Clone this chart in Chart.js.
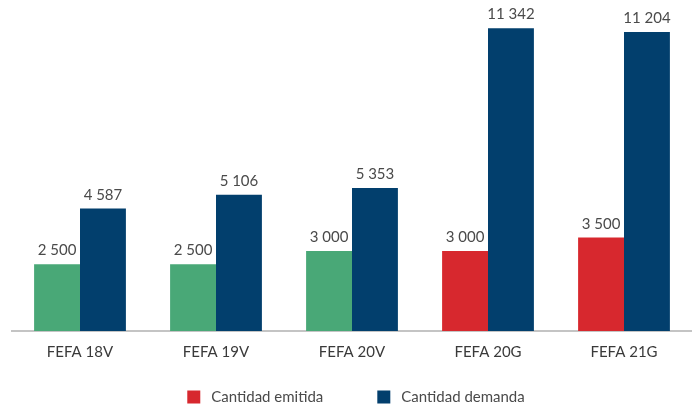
<!DOCTYPE html>
<html lang="es">
<head>
    <meta charset="UTF-8">
    <title>FEFA - Cantidad emitida vs demanda</title>
    <style>
        html, body {
            margin: 0;
            padding: 0;
            background: #fff;
        }
        .chart-container {
            position: relative;
            width: 692px;
            height: 407px;
        }
    </style>
    <script src="https://cdn.jsdelivr.net/npm/chart.js"></script>
</head>
<body>
    <div class="chart-container">
        <canvas id="fefaChart"></canvas>
    </div>

    <script>
        // Data
        const categories = ['FEFA 18V', 'FEFA 19V', 'FEFA 20V', 'FEFA 20G', 'FEFA 21G'];
        const emitida = [2500, 2500, 3000, 3000, 3500];
        const demanda = [4587, 5106, 5353, 11342, 11204];
        const seriesNames = ['Cantidad emitida', 'Cantidad demanda'];

        const GREEN = '#49a877';
        const RED = '#d7282e';
        const NAVY = '#023f6d';
        // first three issues in green, the rest in red
        const emitidaColors = [GREEN, GREEN, GREEN, RED, RED];

        const FONT = 'Lato, "Open Sans", sans-serif';

        function fmt(v) {
            return String(v).replace(/\B(?=(\d{3})+(?!\d))/g, ' ');
        }

        // value labels above each bar
        const valueLabels = {
            id: 'valueLabels',
            afterDatasetsDraw(chart) {
                const ctx = chart.ctx;
                ctx.save();
                ctx.font = '15px ' + FONT;
                ctx.fillStyle = '#4a4a4a';
                ctx.textAlign = 'center';
                ctx.textBaseline = 'alphabetic';
                chart.data.datasets.forEach((ds, i) => {
                    chart.getDatasetMeta(i).data.forEach((bar, j) => {
                        ctx.fillText(fmt(ds.data[j]), bar.x, bar.y - 9);
                    });
                });
                ctx.restore();
            }
        };

        // legend drawn under the axis
        const bottomLegend = {
            id: 'bottomLegend',
            afterDraw(chart) {
                const ctx = chart.ctx;
                const colors = [RED, NAVY];
                const box = 13, textGap = 11, itemGap = 54;
                ctx.save();
                ctx.font = '15px ' + FONT;
                const widths = seriesNames.map(t => ctx.measureText(t).width);
                const total = widths.reduce((a, w) => a + box + textGap + w, 0) + itemGap;
                const area = chart.chartArea;
                let x = (area.left + area.right) / 2 - total / 2 + 4;
                const y = 397;
                ctx.textBaseline = 'middle';
                ctx.textAlign = 'left';
                seriesNames.forEach((name, i) => {
                    ctx.fillStyle = colors[i];
                    ctx.fillRect(x, y - 6.5, box, box);
                    ctx.fillStyle = '#4a4a4a';
                    ctx.fillText(name, x + box + textGap, y);
                    x += box + textGap + widths[i] + itemGap;
                });
                ctx.restore();
            }
        };

        const ctx = document.getElementById('fefaChart').getContext('2d');
        const chart = new Chart(ctx, {
            type: 'bar',
            data: {
                labels: categories,
                datasets: [{
                    label: seriesNames[0],
                    data: emitida,
                    backgroundColor: emitidaColors,
                    categoryPercentage: 0.675,
                    barPercentage: 1.0
                }, {
                    label: seriesNames[1],
                    data: demanda,
                    backgroundColor: NAVY,
                    categoryPercentage: 0.675,
                    barPercentage: 1.0
                }]
            },
            options: {
                responsive: true,
                maintainAspectRatio: false,
                animation: false,
                layout: {
                    padding: { left: 12, right: 0, top: 0, bottom: 34 }
                },
                scales: {
                    x: {
                        grid: { display: false, drawTicks: false },
                        border: { display: true, color: '#c4c4c4', width: 2 },
                        ticks: {
                            color: '#3a3a3a',
                            padding: 12,
                            font: { family: FONT, size: 15 }
                        }
                    },
                    y: {
                        display: false,
                        min: 0,
                        max: 12400
                    }
                },
                plugins: {
                    legend: { display: false },
                    tooltip: { enabled: false }
                }
            },
            plugins: [valueLabels, bottomLegend]
        });
    </script>
</body>
</html>
